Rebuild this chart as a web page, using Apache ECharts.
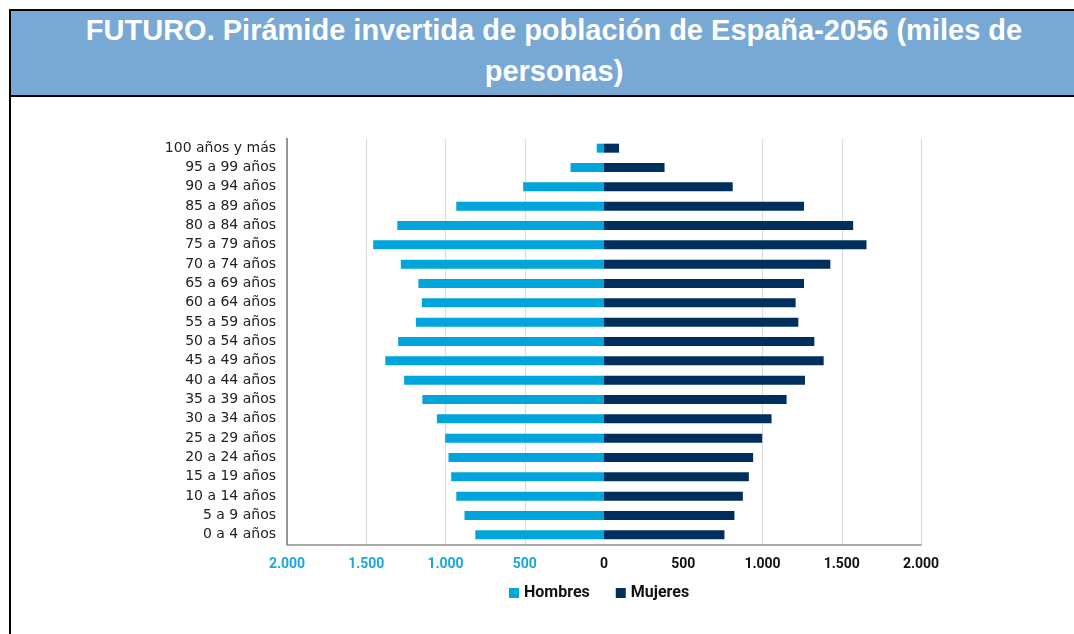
<!DOCTYPE html>
<html>
<head>
<meta charset="utf-8">
<title>Pirámide invertida de población de España-2056</title>
<script src="https://cdn.jsdelivr.net/npm/echarts@6/dist/echarts.min.js"></script>
<style>
  html, body { margin: 0; padding: 0; background: #fff; width: 1074px; height: 634px; overflow: hidden; }
  #banner {
    position: absolute; left: 9px; top: 9px; width: 1100px; height: 84px;
    background: #78a9d5; border-top: 2px solid #000; border-left: 2px solid #000; border-bottom: 2px solid #000;
    color: #fff; font-family: "Liberation Sans", Arial, sans-serif; font-weight: bold; font-size: 29px;
    line-height: 41px; text-align: center; box-sizing: content-box;
  }
  #banner .t { position: absolute; left: 0; width: 1086px; top: -1px; }
  #leftline { position: absolute; left: 9px; top: 95px; width: 2px; height: 540px; background: #000; }
  #chart { position: absolute; left: 0; top: 0; width: 1074px; height: 634px; }
</style>
</head>
<body>
<div id="banner"><div class="t">FUTURO. Pirámide invertida de población de España-2056 (miles de<br>personas)</div></div>
<div id="leftline"></div>
<div id="chart"></div>
<script>
// grupos de edad, de arriba abajo
var ageGroups = ['100 años y más', '95 a 99 años', '90 a 94 años', '85 a 89 años', '80 a 84 años',
  '75 a 79 años', '70 a 74 años', '65 a 69 años', '60 a 64 años', '55 a 59 años', '50 a 54 años',
  '45 a 49 años', '40 a 44 años', '35 a 39 años', '30 a 34 años', '25 a 29 años', '20 a 24 años',
  '15 a 19 años', '10 a 14 años', '5 a 9 años', '0 a 4 años']
// miles de personas
var hombres = [46, 211, 510, 932, 1304, 1456, 1282, 1171, 1149, 1187, 1299,
  1380, 1261, 1146, 1054, 1002, 981, 964, 932, 880, 812]
var mujeres = [95, 382, 812, 1262, 1572, 1656, 1428, 1262, 1209, 1226, 1327,
  1386, 1268, 1152, 1057, 998, 941, 914, 876, 823, 760]
var xTicks = [-2000, -1500, -1000, -500, 0, 500, 1000, 1500, 2000]

function fmt(v) {
  var n = Math.abs(v)
  return n >= 1000 ? Math.floor(n / 1000) + '.' + String(n % 1000).padStart(3, '0') : String(n)
}

var chart = echarts.init(document.getElementById('chart'))
var option = {
  animation: false,
  color: ['#00a5dc', '#002f5e'],
  grid: {
    left: 287,
    right: 153,
    top: 138.5,
    bottom: 89.5
  },
  legend: {
    left: 504,
    top: 580,
    icon: 'rect',
    itemWidth: 10,
    itemHeight: 10,
    itemGap: 26,
    textStyle: {
      fontFamily: 'Roboto',
      fontWeight: 'bold',
      fontSize: 16,
      color: '#111'
    },
    data: ['Hombres', 'Mujeres']
  },
  xAxis: {
    type: 'value',
    min: xTicks[0],
    max: xTicks[xTicks.length - 1],
    interval: 500,
    axisLine: {
      show: true,
      lineStyle: { color: '#8c8c8c', width: 1.5 }
    },
    axisTick: { show: false },
    axisLabel: {
      margin: 13,
      fontFamily: 'Roboto',
      fontWeight: 'bold',
      fontSize: 14,
      formatter: fmt,
      color: function (v) {
        return Number(v) < 0 ? '#1ba6dc' : '#111'
      }
    },
    // sin líneas en 0 y 500 como en el original
    splitLine: {
      lineStyle: {
        color: ['#dcdcdc', '#dcdcdc', '#dcdcdc', '#dcdcdc', 'rgba(0,0,0,0)', 'rgba(0,0,0,0)', '#dcdcdc', '#dcdcdc', '#dcdcdc'],
        width: 1.2
      }
    }
  },
  yAxis: {
    type: 'category',
    inverse: true,
    data: ageGroups,
    axisLine: {
      onZero: false,
      lineStyle: { color: '#7a7a7a', width: 1.5 }
    },
    axisTick: { show: false },
    axisLabel: {
      margin: 11,
      fontFamily: 'DejaVu Sans',
      fontSize: 14,
      color: '#222'
    }
  },
  series: [
    {
      name: 'Hombres',
      type: 'bar',
      stack: 'total',
      barWidth: 9,
      data: hombres.map(function (v) { return -v })
    },
    {
      name: 'Mujeres',
      type: 'bar',
      stack: 'total',
      barWidth: 9,
      data: mujeres
    }
  ]
}
chart.setOption(option)
</script>
</body>
</html>
